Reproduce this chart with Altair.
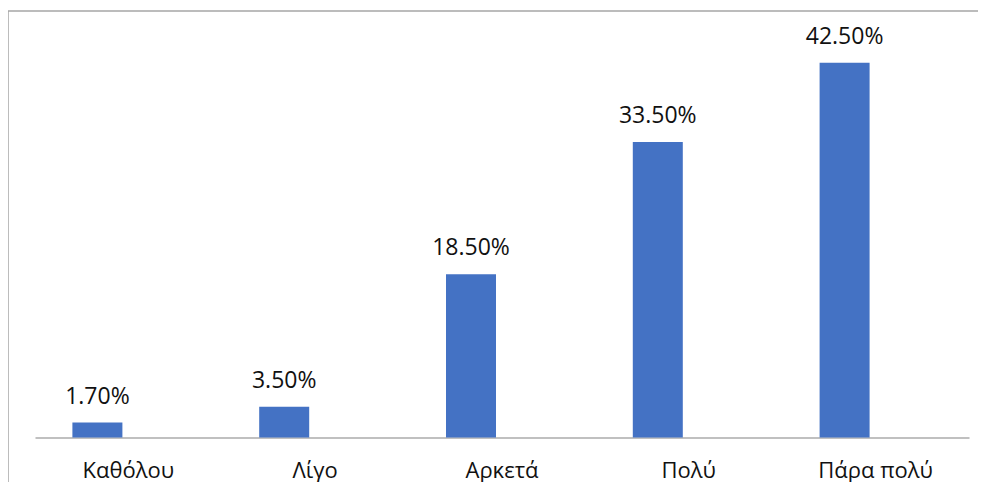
import altair as alt
import pandas as pd

categories = ["Καθόλου", "Λίγο", "Αρκετά", "Πολύ", "Πάρα πολύ"]
values = [1.7, 3.5, 18.5, 33.5, 42.5]

df = pd.DataFrame({"cat": categories, "value": values})

W, H = 970, 458
PAD_TOP, PAD_BOTTOM = 3, 13
BASE = 426.5  # baseline position inside the plot area
PX_PER_UNIT = 8.82
FONT = "Open Sans"

x = alt.X(
    "cat:N",
    sort=categories,
    scale=alt.Scale(range=[27, 961], paddingInner=0, paddingOuter=0),
    axis=alt.Axis(
        title=None,
        orient="bottom",
        offset=BASE - H,
        domain=True,
        domainColor="#ABABAB",
        domainWidth=1.5,
        ticks=False,
        tickSize=0,
        labelAngle=0,
        labelBaseline="alphabetic",
        labelPadding=39.5,
        labelFont=FONT,
        labelFontSize=22,
        labelColor="#111111",
        labelLimit=0,
        grid=False,
    ),
)
y = alt.Y(
    "value:Q",
    scale=alt.Scale(domain=[-(H - BASE) / PX_PER_UNIT, BASE / PX_PER_UNIT], nice=False, zero=False),
    axis=None,
)

base = alt.Chart(df)

bars = base.mark_bar(width=50, xOffset=-31, color="#4472C4").encode(
    x=x, y=y, y2=alt.datum(0)
)

labels = base.transform_calculate(
    lab="format(datum.value, '.2f') + '%'"
).mark_text(
    dx=-31, dy=-19, baseline="alphabetic", align="center",
    font=FONT, fontSize=23, color="#111111"
).encode(x=x, y=y, text="lab:N")

frame_data = alt.Data(values=[{"a": 1}])
top_rule = alt.Chart(frame_data).mark_rule(color="#A6A6A6", strokeWidth=1.5).encode(
    x=alt.value(0), x2=alt.value(W), y=alt.value(0)
)
left_rule = alt.Chart(frame_data).mark_rule(color="#A6A6A6", strokeWidth=1.5).encode(
    x=alt.value(0), y=alt.value(0), y2=alt.value(H + PAD_BOTTOM)
)

chart = alt.layer(bars, labels, top_rule, left_rule).properties(
    width=W,
    height=H,
    padding={"top": PAD_TOP, "left": 0, "right": 0, "bottom": PAD_BOTTOM},
    autosize=alt.AutoSizeParams(type="none"),
).configure_view(stroke=None)

chart.save("out.html", embed_options={"renderer": "svg", "actions": False})
